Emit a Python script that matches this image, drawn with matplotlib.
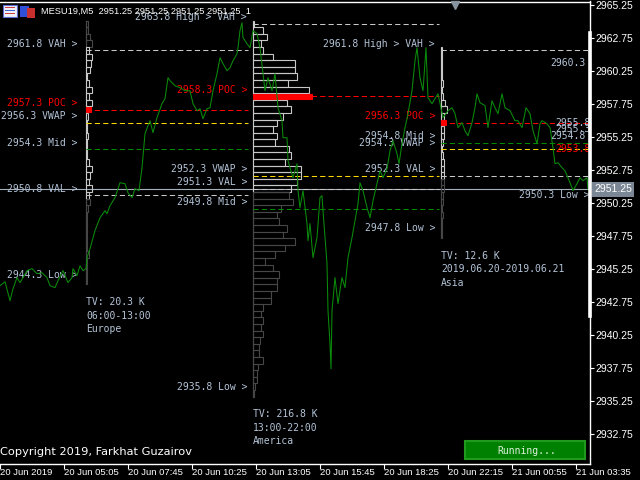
import numpy as np
import matplotlib
matplotlib.use('Agg')
import matplotlib.pyplot as plt
import matplotlib.transforms as mtransforms
from matplotlib.patches import Rectangle

# M5 close prices, x = bar number on the chart (2 px per bar)
line_bars = [0, 2.5, 5, 6.5, 8.5, 10, 11.5, 13.5, 16, 18.5, 21, 23.5, 25, 27.5, 29, 31.5,
             34, 36, 36.5, 38.5, 40, 41.5, 43, 43.5, 45, 47.5, 50, 52.5, 53.5, 55, 57.5,
             60, 62.5, 64, 66, 67.5, 69.5, 71, 72.5, 74, 75, 76.5, 78.5, 81, 82.5, 84, 85,
             87.5, 90, 92.5, 95, 96.5, 98.5, 100, 101.5, 103.5, 105, 106.5, 108.5, 110,
             111.5, 113.5, 115, 116.5, 118.5, 119, 120, 121, 121.5, 123.5, 125, 126.5,
             128.5, 130, 131.5, 132.5, 134, 136, 137.5, 139, 141, 141.5, 143.5, 144, 145,
             146.5, 148.5, 149, 150, 151.5, 153.5, 154, 155, 156.5, 158.5, 160, 161, 161.5,
             163.5, 164, 165, 165.5, 166, 167.5, 169, 171, 172.5, 174, 176, 177.5, 179, 180,
             181.5, 183.5, 185, 186.5, 188.5, 190, 191.5, 193.5, 195, 196.5, 198.5, 199.5,
             201, 202.5, 204, 206, 207.5, 208.5, 210, 211.5, 213, 214, 216, 217.5, 219,
             221.5, 224, 226, 227.5, 229, 231, 232.5, 234, 236, 237.5, 238.5, 240, 242.5,
             244, 246, 247.5, 249, 251, 252.5, 255, 257.5, 259, 261, 263, 265, 266.5, 268.5,
             270, 271, 273.5, 275, 276.5, 277.5, 279, 281, 282.5, 284, 286, 286.5, 288.5,
             290, 291.5, 293.5, 294]
line_prices = [2943.96, 2944.26, 2942.82, 2943.73, 2944.57, 2944.19, 2944.57, 2945.10,
               2945.25, 2944.87, 2944.94, 2944.57, 2943.96, 2943.81, 2944.34, 2945.10,
               2944.19, 2944.57, 2945.25, 2944.72, 2945.47, 2945.10, 2945.25, 2946.08,
               2946.76, 2948.13, 2949.11, 2949.64, 2949.41, 2950.02, 2950.63, 2951.76,
               2951.69, 2951.00, 2950.63, 2951.31, 2951.16, 2952.90, 2955.47, 2956.08,
               2956.46, 2955.55, 2956.69, 2957.75, 2958.13, 2959.72, 2959.49, 2959.11,
               2958.96, 2958.73, 2958.73, 2957.75, 2957.22, 2957.37, 2956.61, 2957.37,
               2957.44, 2958.73, 2960.02, 2961.23, 2960.78, 2960.25, 2960.47, 2961.00,
               2961.53, 2961.99, 2963.28, 2963.88, 2962.75, 2962.29, 2961.99, 2963.28,
               2963.05, 2961.99, 2960.02, 2958.73, 2959.72, 2958.73, 2960.02, 2957.44,
               2956.46, 2955.17, 2955.17, 2953.43, 2952.90, 2952.14, 2953.20, 2951.16,
               2949.87, 2951.16, 2948.66, 2947.37, 2948.66, 2946.08, 2947.60, 2950.63,
               2950.78, 2949.64, 2945.63, 2942.07, 2939.57, 2937.67, 2942.07, 2944.57,
               2942.60, 2944.57, 2943.81, 2946.08, 2947.60, 2948.88, 2950.17, 2951.76,
               2951.16, 2949.87, 2949.11, 2950.40, 2951.69, 2952.67, 2952.14, 2952.82,
               2954.19, 2954.94, 2953.96, 2953.20, 2954.72, 2955.93, 2956.99, 2958.73,
               2961.00, 2961.99, 2959.72, 2958.73, 2961.99, 2958.20, 2957.75, 2958.13,
               2958.50, 2956.69, 2957.22, 2957.44, 2956.99, 2955.93, 2956.31, 2955.70,
               2955.32, 2956.31, 2957.44, 2958.50, 2957.82, 2957.60, 2955.93, 2957.97,
               2957.44, 2956.99, 2958.50, 2957.44, 2957.22, 2956.46, 2956.46, 2955.93,
               2957.44, 2956.99, 2955.70, 2954.72, 2956.23, 2956.46, 2956.23, 2955.93,
               2954.41, 2953.20, 2953.28, 2952.90, 2952.67, 2952.14, 2951.38, 2951.16,
               2951.69, 2952.14, 2951.91, 2952.14, 2951.25]
last_price = 2951.25

# volume profiles, 0.5 pt bins listed from the top price downwards
eu_vol = [2, 2, 4, 6, 3, 6, 5, 4, 1, 3, 6, 3, 6, 5, 2, 1, 1, 2, 1, 1, 1, 3, 6, 4, 3, 6, 3,
          4, 2, 1, 1, 1, 1, 1, 1, 3, 1, 1, 1, 1]
am_vol = [1, 10, 14, 8, 10, 20, 42, 42, 44, 35, 56, 59, 34, 38, 30, 24, 20, 24, 22, 36, 38,
          32, 48, 48, 44, 38, 36, 40, 28, 24, 26, 34, 30, 42, 32, 22, 12, 20, 26, 24, 24,
          18, 18, 10, 8, 10, 8, 10, 7, 6, 6, 10, 5, 4, 4, 2, 1]
as_vol = [0.5, 0.5, 0.5, 0.5, 0.5, 2, 0.5, 2, 4, 6, 3, 5, 3, 3, 1.5, 1, 2, 3, 3, 3, 3, 3,
          1.5, 1.5, 1, 1.5, 0.5, 0.5, 0.5]

session_names = ['Europe', 'America', 'Asia']
session_hours = ['06:00-13:00', '13:00-22:00', '2019.06.20-2019.06.21']
session_tv = ['TV: 20.3 K', 'TV: 216.8 K', 'TV: 12.6 K']
session_start = [43, 126.5, 220.5]
session_end = [124, 219.5, 295]
profile_top = [2963.8, 2963.8, 2961.8]
profile_vol = [eu_vol, am_vol, as_vol]
vah = [2961.8, 2963.8, 2961.8]
vah_tag = ['VAH', 'High > VAH', 'High > VAH']
poc = [2957.3, 2958.3, 2956.3]
vwap = [2956.3, 2952.3, 2954.3]
mid = [2954.3, 2949.8, 2954.8]
val = [2950.8, 2951.3, 2952.3]
low = [2944.3, 2935.8, 2947.8]

right_vals = [2960.3, 2955.8, 2955.3, 2954.8, 2953.8]
asia_low_now = 2950.3

time_ticks = [0, 32, 64, 96, 128, 160, 192, 224, 256, 288]
time_labels = ['20 Jun 2019', '20 Jun 05:05', '20 Jun 07:45', '20 Jun 10:25',
               '20 Jun 13:05', '20 Jun 15:45', '20 Jun 18:25', '20 Jun 22:15',
               '21 Jun 00:55', '21 Jun 03:35']

LBL = '#b4c4d8'
MONO = 'DejaVu Sans Mono'
SANS = ['Liberation Sans', 'DejaVu Sans']
DASH = (0, (5, 3))

fig = plt.figure(figsize=(6.4, 4.8), dpi=100, facecolor='black')
ax = fig.add_axes([0, 16 / 480, 590 / 640, 462.5 / 480], facecolor='black')
ax.set_xlim(0, 295)
ax.set_ylim(2930.45, 2965.49)

# current price line
ax.axhline(last_price, color='#a4b0bc', lw=0.8, zorder=2)

for i in range(3):
    x0 = session_start[i]
    x1 = session_end[i]
    vols = np.array(profile_vol[i])
    prices = profile_top[i] - 0.5 * np.arange(len(vols))
    ax.plot([x0, x0], [prices[-1] - 0.25, prices[0] + 0.25], color='#6a6a6a', lw=0.8,
            zorder=3)
    inside = (prices <= vah[i] + 0.01) & (prices >= val[i] - 0.01)
    is_poc = np.abs(prices - poc[i]) < 0.01
    edge = np.where(inside, '#c8c8c8', '#474747')
    ax.barh(prices[~is_poc], vols[~is_poc] * 0.5, height=0.5, left=x0, fill=False,
            edgecolor=edge[~is_poc], lw=0.8, zorder=4)
    ax.barh(prices[is_poc], vols[is_poc] * 0.5, height=0.4, left=x0, color='#ff0000',
            edgecolor='#ff0000', lw=0.8, zorder=4)

    for lvl, col in [(vah[i], '#c8c8c8'), (poc[i], '#ff0000'), (vwap[i], '#ffd700'),
                     (mid[i], '#008a00'), (val[i], '#c8c8c8')]:
        ax.hlines(lvl, x0, x1, colors=col, linestyles=DASH, lw=0.75, zorder=5)

    dx = -6 if i == 0 else -4.3
    labels = [(vah[i], vah_tag[i], LBL), (poc[i], 'POC', '#ff0000'),
              (vwap[i], 'VWAP', LBL), (mid[i], 'Mid', LBL), (val[i], 'VAL', LBL),
              (low[i], 'Low', LBL)]
    for lvl, tag, col in labels:
        ax.annotate(f'{lvl:.1f} {tag} >', xy=(x0, lvl), xytext=(dx, 4.7),
                    textcoords='offset points', ha='right', va='center',
                    family=MONO, fontsize=7, color=col, zorder=6)

    for k, txt in enumerate([session_tv[i], session_hours[i], session_names[i]]):
        ax.annotate(txt, xy=(x0, low[i]), xytext=(0, -15 - 9.8 * k),
                    textcoords='offset points', ha='left', va='center',
                    family=MONO, fontsize=7, color=LBL, zorder=6)

# right side labels of the running session
right_x = [275, 277.5, 277.5, 275, 277.5]
for v, xx in zip(right_vals, right_x):
    col = '#ff0000' if v == 2953.8 else LBL
    ax.annotate(f'{v:.1f}', xy=(xx, v), xytext=(0, 4.7), textcoords='offset points',
                ha='left', va='center', family=MONO, fontsize=7, color=col, zorder=6,
                annotation_clip=False, clip_on=True)
ax.annotate(f'{asia_low_now:.1f} Low >', xy=(259.7, asia_low_now), xytext=(0, 4.7),
            textcoords='offset points', ha='left', va='center', family=MONO,
            fontsize=7, color=LBL, zorder=6, clip_on=True)

ax.plot(line_bars, line_prices, color='#0a8c0a', lw=0.75, zorder=7)

# axes
ax.spines['left'].set_visible(False)
for s in ['right', 'bottom', 'top']:
    ax.spines[s].set_color('white')
    ax.spines[s].set_linewidth(1)
ax.yaxis.tick_right()
ax.set_yticks(np.arange(2932.75, 2965.3, 2.5))
ax.set_yticklabels([f'{v:.2f}' for v in np.arange(2932.75, 2965.3, 2.5)])
ax.tick_params(axis='y', colors='white', length=3, width=0.8, pad=1, labelsize=7.5)
ax.set_xticks(time_ticks)
ax.set_xticklabels(time_labels)
ax.tick_params(axis='x', colors='white', length=3.6, width=0.8, pad=-0.5, labelsize=6.8)
for lab in ax.get_xticklabels():
    lab.set_ha('left')
    lab.set_family(SANS)
for lab in ax.get_yticklabels():
    lab.set_family(SANS)

ax.plot([1, 1], [0.320, 0.932], transform=ax.transAxes, color='white', lw=2.6,
        clip_on=False, zorder=8)
trans = mtransforms.blended_transform_factory(ax.transData, ax.transAxes)
ax.plot([227.5], [0.993], marker='v', ms=6, color='#8894a0', transform=trans,
        clip_on=False, zorder=8)
ax.annotate(f'{last_price:.2f}', xy=(1, last_price), xycoords=('axes fraction', 'data'),
            xytext=(3.2, 0), textcoords='offset points', ha='left', va='center',
            fontsize=7.5, family=SANS, color='white',
            bbox=dict(boxstyle='square,pad=0.2', fc='#7b8794', ec='none'))


# window decorations
def px(x, y):
    return x / 640, 1 - y / 480


fig.add_artist(Rectangle(px(3, 17), 14 / 640, 12 / 480, transform=fig.transFigure,
                         fc='#eef0fa', ec='#5a6ad0', lw=0.8))
for yy, cc in [(8, '#d04040'), (11, '#4060d0'), (14, '#d04040')]:
    fig.add_artist(Rectangle(px(5, yy), 10 / 640, 1 / 480, transform=fig.transFigure,
                             fc=cc, ec='none'))
fig.add_artist(Rectangle(px(20, 17), 9 / 640, 11 / 480, transform=fig.transFigure,
                         fc='#3050d8', ec='none'))
fig.add_artist(Rectangle(px(27, 18), 8 / 640, 10 / 480, transform=fig.transFigure,
                         fc='#c83030', ec='none'))
fig.text(*px(41, 11.7), 'MESU19,M5  2951.25 2951.25 2951.25 2951.25  1', color='white',
         fontsize=6.7, family=SANS, va='center', ha='left')
fig.text(*px(0, 452), 'Copyright 2019, Farkhat Guzairov', color='white', fontsize=8.2,
         family=['DejaVu Sans'], va='center', ha='left')
fig.add_artist(Rectangle(px(465, 459), 120 / 640, 18 / 480, transform=fig.transFigure,
                         fc='#008000', ec='#1f9a1f', lw=1.5))
fig.text(*px(527, 450.5), 'Running...', color='#dff2df', fontsize=7, family=MONO,
         va='center', ha='center')

fig.savefig('out.png', dpi=100, facecolor='black')
